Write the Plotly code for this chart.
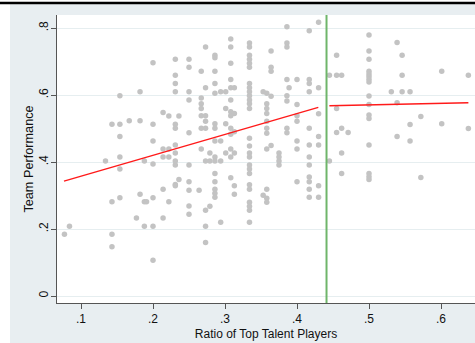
import plotly.graph_objects as go

# ---- data (grouped by x value) ----
group_ratio = [0.077, 0.084, 0.134, 0.143, 0.154, 0.167, 0.177, 0.182, 0.188, 0.191,
               0.200, 0.214, 0.222, 0.231, 0.236, 0.250, 0.264, 0.267, 0.273, 0.279,
               0.286, 0.294, 0.301, 0.308, 0.313, 0.334, 0.353, 0.358, 0.364, 0.375,
               0.386, 0.389, 0.400, 0.417, 0.430, 0.445, 0.455, 0.462, 0.471, 0.500,
               0.531, 0.539, 0.546, 0.557, 0.572, 0.601, 0.638]
group_perf = [
    [0.184],
    [0.208],
    [0.403],
    [0.513, 0.281, 0.184, 0.147],
    [0.598, 0.513, 0.476, 0.415, 0.379, 0.293],
    [0.523],
    [0.233],
    [0.610, 0.523, 0.304],
    [0.403, 0.281, 0.208],
    [0.281],
    [0.696, 0.513, 0.463, 0.394, 0.293, 0.208, 0.107],
    [0.548, 0.439, 0.415, 0.319, 0.233],
    [0.537, 0.439, 0.415, 0.281],
    [0.707, 0.659, 0.634, 0.610, 0.513, 0.501, 0.451, 0.427, 0.403, 0.391, 0.333, 0.329],
    [0.348, 0.537],
    [0.707, 0.683, 0.610, 0.585, 0.487, 0.391, 0.341, 0.316, 0.269, 0.244],
    [0.316],
    [0.671, 0.591, 0.574, 0.560, 0.538, 0.501, 0.439],
    [0.743, 0.622, 0.538, 0.522, 0.501, 0.403, 0.256, 0.208, 0.160],
    [0.427, 0.403, 0.268],
    [0.719, 0.711, 0.671, 0.634, 0.605, 0.514, 0.501, 0.463, 0.415, 0.403, 0.366, 0.341,
     0.319, 0.307, 0.295],
    [0.610, 0.463, 0.403, 0.220],
    [0.610, 0.560, 0.514, 0.427],
    [0.767, 0.743, 0.695, 0.646, 0.622, 0.585, 0.550, 0.538, 0.501, 0.483, 0.439, 0.415, 0.353],
    [0.622, 0.545, 0.490, 0.427, 0.329, 0.304],
    [0.755, 0.743, 0.719, 0.707, 0.695, 0.683, 0.634, 0.622, 0.610, 0.598, 0.585, 0.574,
     0.560, 0.471, 0.448, 0.427, 0.415, 0.391, 0.379, 0.366, 0.332, 0.319, 0.280, 0.268,
     0.256, 0.220],
    [0.610, 0.301],
    [0.605, 0.574, 0.560, 0.545, 0.522, 0.501, 0.486, 0.439, 0.319, 0.292, 0.280],
    [0.731, 0.683, 0.671, 0.596, 0.449],
    [0.427, 0.415, 0.403, 0.391],
    [0.804, 0.755, 0.743, 0.646, 0.598, 0.582, 0.501, 0.487],
    [0.622],
    [0.646, 0.572, 0.538, 0.522, 0.463, 0.439, 0.341],
    [0.792, 0.646, 0.634, 0.610, 0.501, 0.451, 0.415, 0.391, 0.355, 0.341, 0.319, 0.295],
    [0.817, 0.622, 0.544, 0.476, 0.451, 0.329, 0.295],
    [0.659, 0.403],
    [0.719, 0.659, 0.560, 0.488],
    [0.659, 0.501, 0.427, 0.366],
    [0.488],
    [0.779, 0.731, 0.707, 0.671, 0.663, 0.655, 0.647, 0.639, 0.597, 0.572, 0.540, 0.530,
     0.451, 0.366, 0.356, 0.348],
    [0.610],
    [0.757, 0.577, 0.476],
    [0.719, 0.659, 0.610],
    [0.610, 0.512, 0.463],
    [0.536, 0.354],
    [0.671, 0.514],
    [0.659, 0.500],
]

fit_left_x = [0.0764, 0.4296]
fit_left_y = [0.343, 0.563]
fit_right_x = [0.445, 0.638]
fit_right_y = [0.568, 0.577]
cutoff = 0.441

x_ticks = [0.1, 0.2, 0.3, 0.4, 0.5, 0.6]
x_ticklabels = [".1", ".2", ".3", ".4", ".5", ".6"]
y_ticks = [0, 0.2, 0.4, 0.6, 0.8]
y_ticklabels = ["0", ".2", ".4", ".6", ".8"]

ratio = []
performance = []
for xv, ys in zip(group_ratio, group_perf):
    for yv in ys:
        ratio.append(xv)
        performance.append(yv)

W, H = 475, 343
ML, MR, MT, MB = 57, 0, 15, 40
PW, PH = W - ML - MR, H - MT - MB

def px2paper_x(px):
    return (px - ML) / PW

def px2paper_y(py):
    return (H - MB - py) / PH

FONT = "Liberation Sans, Arial, Helvetica, sans-serif"
BG = "#e8eef1"

fig = go.Figure()
fig.add_trace(go.Scatter(x=ratio, y=performance, mode="markers",
                         marker=dict(size=5.5, color="#c3c3c3", line=dict(width=0)),
                         showlegend=False, hoverinfo="skip"))
fig.add_trace(go.Scatter(x=fit_left_x, y=fit_left_y, mode="lines",
                         line=dict(color="#ff1a1a", width=1.4), showlegend=False))
fig.add_trace(go.Scatter(x=fit_right_x, y=fit_right_y, mode="lines",
                         line=dict(color="#ff1a1a", width=1.4), showlegend=False))

shapes = [
    dict(type="line", xref="x", yref="paper", x0=cutoff, x1=cutoff, y0=0, y1=1,
         line=dict(color="#6fb56a", width=2)),
    # white strip on left
    dict(type="rect", xref="paper", yref="paper", x0=px2paper_x(-2), x1=px2paper_x(10),
         y0=px2paper_y(H + 2), y1=px2paper_y(-2), fillcolor="white", line=dict(width=0),
         layer="above"),
    # white above black line
    dict(type="rect", xref="paper", yref="paper", x0=px2paper_x(-2), x1=px2paper_x(W + 2),
         y0=px2paper_y(2), y1=px2paper_y(-2), fillcolor="white", line=dict(width=0),
         layer="above"),
    # black top bar
    dict(type="rect", xref="paper", yref="paper", x0=px2paper_x(-2), x1=px2paper_x(W + 2),
         y0=px2paper_y(4.2), y1=px2paper_y(1.8), fillcolor="black", line=dict(width=0),
         layer="above"),
]

fig.update_layout(
    width=W, height=H,
    margin=dict(l=ML, r=MR, t=MT, b=MB, pad=0),
    paper_bgcolor=BG, plot_bgcolor="white",
    font=dict(family=FONT, size=12, color="#111111"),
    shapes=shapes,
    xaxis=dict(range=[0.1 + (ML - 81) / 720, 0.1 + (W - 81) / 720],
               tickvals=x_ticks, ticktext=x_ticklabels,
               showgrid=False, zeroline=False,
               showline=True, linecolor="#555555", linewidth=1,
               ticks="outside", ticklen=5, tickcolor="#555555", tickwidth=1,
               tickfont=dict(size=12),
               title=dict(text="Ratio of Top Talent Players", font=dict(size=12), standoff=4)),
    yaxis=dict(range=[(296 - 303) / 335, (296 - 15) / 335],
               tickvals=y_ticks, ticktext=y_ticklabels, tickangle=-90,
               ticklabelstandoff=-2,
               showgrid=True, gridcolor="#e6eef0", gridwidth=1, zeroline=False,
               showline=True, linecolor="#555555", linewidth=1,
               ticks="outside", ticklen=5, tickcolor="#555555", tickwidth=1,
               tickfont=dict(size=12),
               title=dict(text="Team Performance", font=dict(size=12.7), standoff=0)),
)

fig.write_html("out.html", config={"displayModeBar": False},
               post_script="document.body.style.margin='0px';document.body.style.overflow='hidden';")
